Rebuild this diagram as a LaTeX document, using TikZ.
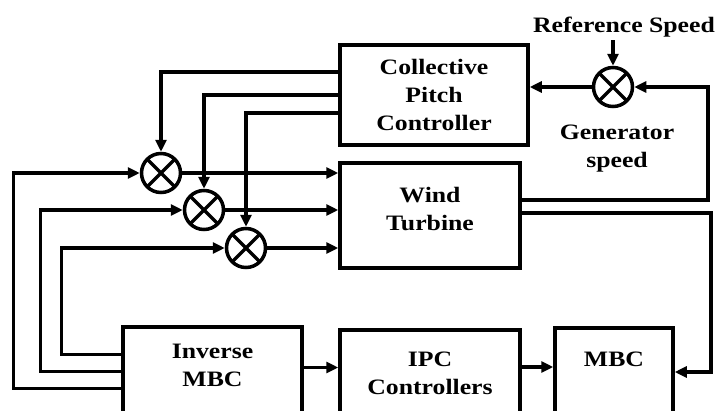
\documentclass[tikz,border=0pt]{standalone}
\usepackage{fontspec}
\setmainfont{Liberation Serif}[FakeStretch=1.17]
\usetikzlibrary{arrows.meta}

\tikzset{
  block/.style={draw, line width=3.5pt, align=center, inner sep=0pt},
  summer/.style={draw, circle, line width=3.5pt, minimum size=39pt, inner sep=0pt,
    path picture={\draw[line width=3.5pt]
      (path picture bounding box.north west) -- (path picture bounding box.south east)
      (path picture bounding box.north east) -- (path picture bounding box.south west);}},
  sig/.style={line width=3.5pt, -{Triangle[length=12pt,width=11pt]}},
}

\begin{document}
\begin{tikzpicture}[x=1pt, y=-1pt, font=\fontsize{22pt}{28pt}\selectfont\bfseries]
\useasboundingbox (0,0) rectangle (718,410);
% blocks
\node[block, minimum width=188pt, minimum height=100pt] (cpc) at (434,95) {Collective\\Pitch\\Controller};
\node[block, minimum width=180pt, minimum height=105pt, text depth=13pt] (wt) at (430,215.5) {Wind\\Turbine};
\node[block, minimum width=179pt, minimum height=89pt, text depth=13pt] (imbc) at (212.5,371.5) {Inverse\\MBC};
\node[block, minimum width=180pt, minimum height=86pt] (ipc) at (430,373) {IPC\\Controllers};
\node[block, minimum width=118pt, minimum height=88pt, text depth=25pt] (mbc) at (614,372) {MBC};
% summing points
\node[summer] (s1) at (161,173) {};
\node[summer] (s2) at (204,210) {};
\node[summer] (s3) at (246,248) {};
\node[summer] (sg) at (613,87) {};
% labels
\node[anchor=base] (ref) at (624,32) {Reference Speed};
\node[align=center] (gen) at (617,149) {Generator\\speed};
% speed loop
\draw[sig] (sg |- ref.south) -- (sg.north);
\draw[sig] (sg.west) -- (sg -| cpc.east);
\coordinate (fb) at (708,200);
\draw[sig] (fb -| wt.east) -- (fb) |- (sg.east);
\coordinate (mb) at (711,213);
\draw[sig] (mb -| wt.east) -- (mb) |- (mbc.east);
% collective pitch to summers
\draw[sig] ([yshift=23pt]cpc.west) -| (s1.north);
\draw[sig] (cpc.west) -| (s2.north);
\draw[sig] ([yshift=-18pt]cpc.west) -| (s3.north);
\draw[sig] (s1.east) -- (s1 -| wt.west);
\draw[sig] (s2.east) -- (s2 -| wt.west);
\draw[sig] (s3.east) -- (s3 -| wt.west);
% individual pitch feedback
\draw[sig] ([yshift=-17pt]imbc.west) -- ++(-108,0) |- (s1.west);
\draw[sig] (imbc.west) -- ++(-81,0) |- (s2.west);
\draw[sig] ([yshift=17pt]imbc.west) -- ++(-60,0) |- (s3.west);
\draw[sig] ([yshift=4pt]imbc.east) -- ([yshift=4pt]imbc.east -| ipc.west);
\draw[sig] ([yshift=6pt]ipc.east) -- ([yshift=6pt]ipc.east -| mbc.west);
\end{tikzpicture}
\end{document}
